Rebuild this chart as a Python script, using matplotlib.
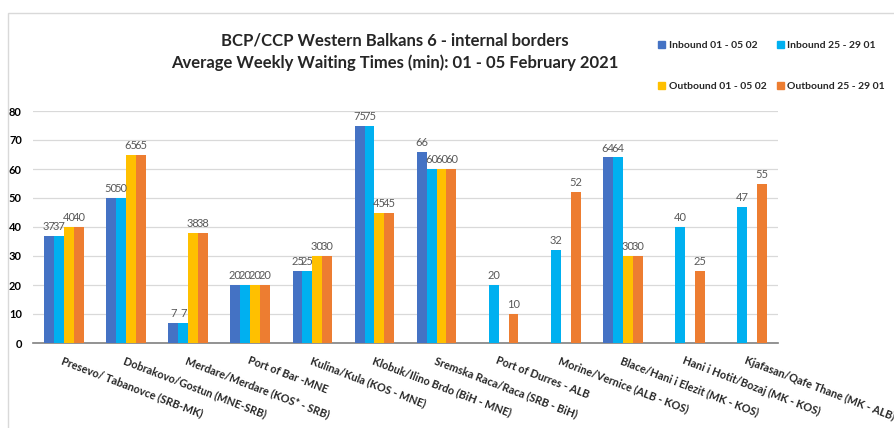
import numpy as np
import matplotlib
matplotlib.use("Agg")
import matplotlib.pyplot as plt
from matplotlib.patches import Rectangle

categories = ["Presevo/ Tabanovce (SRB-MK)", "Dobrakovo/Gostun (MNE-SRB)",
              "Merdare/Merdare (KOS* - SRB)", "Port of Bar -MNE",
              "Kulina/Kula (KOS - MNE)", "Klobuk/Ilino Brdo (BiH - MNE)",
              "Sremska Raca/Raca (SRB - BiH)", "Port of Durres - ALB",
              "Morine/Vernice (ALB - KOS)", "Blace/Hani i Elezit (MK - KOS)",
              "Hani i Hotit/Bozaj (MK - KOS)", "Kjafasan/Qafe Thane (MK - ALB)"]
inbound_new = [37, 50, 7, 20, 25, 75, 66, None, None, 64, None, None]
inbound_old = [37, 50, 7, 20, 25, 75, 60, 20, 32, 64, 40, 47]
outbound_new = [40, 65, 38, 20, 30, 45, 60, None, None, 30, None, None]
outbound_old = [40, 65, 38, 20, 30, 45, 60, 10, 52, 30, 25, 55]
series_names = ["Inbound 01 - 05 02", "Inbound 25 - 29 01",
                "Outbound 01 - 05 02", "Outbound 25 - 29 01"]
colors = ["#4472C4", "#00B0F0", "#FFC000", "#ED7D31"]
yticks = [0, 10, 20, 30, 40, 50, 60, 70, 80]

plt.rcParams['font.family'] = ['Lato', 'DejaVu Sans']

fig = plt.figure(figsize=(8.95, 4.28), dpi=100)
fig.patches.append(Rectangle((8/895, -0.1), 1.2, 1 - 13/428 + 0.1, transform=fig.transFigure,
                             fill=False, edgecolor="#D9D9D9", linewidth=1.0))
ax = fig.add_axes([33/895, 1 - 343/428, 745/895, (343 - 111)/428])

series = [inbound_new, inbound_old, outbound_new, outbound_old]
x = np.arange(len(categories))
w = 0.16
for i, (vals, name, c) in enumerate(zip(series, series_names, colors)):
    pos = x + (i - 1.5) * w
    v = np.array([np.nan if t is None else t for t in vals], dtype=float)
    ax.bar(pos, v, width=w, color=c, label=name, zorder=3)
    for p, t in zip(pos, vals):
        if t is not None:
            ax.text(p, t + 1.3, str(t), ha='center', va='bottom', fontsize=8,
                    color='#595959', zorder=4)

ax.set_xlim(-0.5, len(categories) - 0.5)
ax.set_ylim(0, 80)
ax.set_yticks(yticks)
ax.set_yticklabels([str(t) for t in yticks], fontsize=8, fontweight='bold')
ax.tick_params(axis='y', length=0, pad=8)
ax.tick_params(axis='x', length=0)
ax.yaxis.grid(True, color='#D9D9D9', linewidth=0.9, zorder=0)
ax.set_axisbelow(True)
for s in ['top', 'right', 'left']:
    ax.spines[s].set_visible(False)
ax.spines['bottom'].set_color('#808080')
ax.spines['bottom'].set_linewidth(1.2)
ax.set_xticks(x)
ax.set_xticklabels([])
for xi, lab in zip(x, categories):
    ax.text(xi, -4.0, lab, rotation=-21, rotation_mode='anchor', ha='left', va='top',
            fontsize=7.8, fontweight='bold', color='#262626', transform=ax.transData)

fig.text(395/895, 1 - 52/428, "BCP/CCP Western Balkans 6 - internal borders\nAverage Weekly Waiting Times (min): 01 - 05 February 2021",
         ha='center', va='center', fontsize=12, fontweight='bold', color='#262626',
         linespacing=1.45)

handles = [Rectangle((0, 0), 1, 1, color=c) for c in colors]
order = [0, 2, 1, 3]
leg = fig.legend([handles[k] for k in order], [series_names[k] for k in order],
                 loc='upper left', bbox_to_anchor=(654/895, 1 - 37/428),
                 ncol=2, frameon=False, fontsize=7.5, handlelength=0.7, handleheight=0.7,
                 handletextpad=0.3, columnspacing=1.0, labelspacing=3.0, borderaxespad=0)
for t in leg.get_texts():
    t.set_fontweight('bold')
    t.set_color('#262626')

fig.savefig("out.png", dpi=100)
